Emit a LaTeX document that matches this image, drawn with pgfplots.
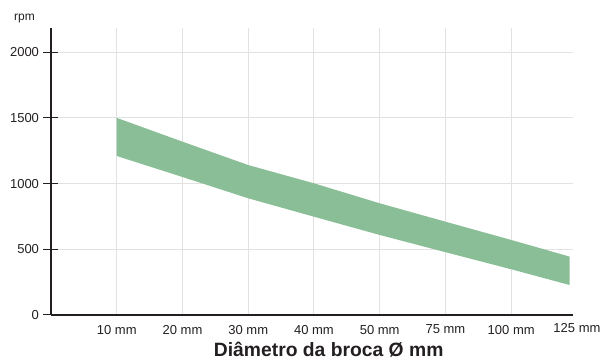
\documentclass[border=0pt]{standalone}
\usepackage{fontspec}
\setmainfont{Liberation Sans}
\usepackage{pgfplots}
\pgfplotsset{compat=1.18}
\definecolor{band}{RGB}{138,190,150}
\definecolor{gridc}{RGB}{226,226,226}
\definecolor{axc}{RGB}{35,31,32}
\begin{document}
\begin{tikzpicture}
\useasboundingbox (-51pt,-48pt) rectangle (554pt,315pt);
\begin{axis}[
  at={(0pt,0pt)}, anchor=south west,
  scale only axis, width=522pt, height=287pt,
  xmin=0, xmax=7.94, ymin=0, ymax=2184,
  axis lines=left,
  axis line style={-, axc, line width=1.2pt},
  xtick={1,2,3,4,5,6,7},
  xticklabels={10 mm,20 mm,30 mm,40 mm,50 mm,75 mm,100 mm},
  xmajorgrids,
  ytick={0,500,1000,1500,2000},
  yticklabels={0,500,1000,1500,2000},
  ymajorgrids,
  grid style={gridc, line width=1pt},
  tick align=center,
  major tick length=15pt,
  xtick style={draw=none},
  ytick style={axc, line width=1pt},
  ticklabel style={font=\fontsize{13}{15}\selectfont, text=axc},
  xticklabel style={yshift=1pt},
  yticklabel style={xshift=-1pt},
  xlabel={\bfseries Diâmetro da broca Ø mm},
  xlabel style={font=\fontsize{19.3}{22}\selectfont, text=axc, at={(rel axis cs:0.532,0)}, anchor=base, yshift=-42pt},
  clip=false,
]
\addplot[fill=band, draw=none] coordinates {
  (1,1500) (2,1319) (3,1141) (4,1002) (5,850) (6,710) (7,571) (7.89,444)
  (7.89,228) (7,348) (6,478) (5,609) (4,748) (3,888) (2,1050) (1,1210)
} -- cycle;
\node[anchor=base, font=\fontsize{13}{15}\selectfont, text=axc] at (axis cs:8,0) [yshift=-17.5pt] {125 mm};
\end{axis}
\node[anchor=base west, font=\fontsize{12}{14}\selectfont, text=axc, inner sep=0pt] at (-37pt,294pt) {rpm};
\end{tikzpicture}
\end{document}
